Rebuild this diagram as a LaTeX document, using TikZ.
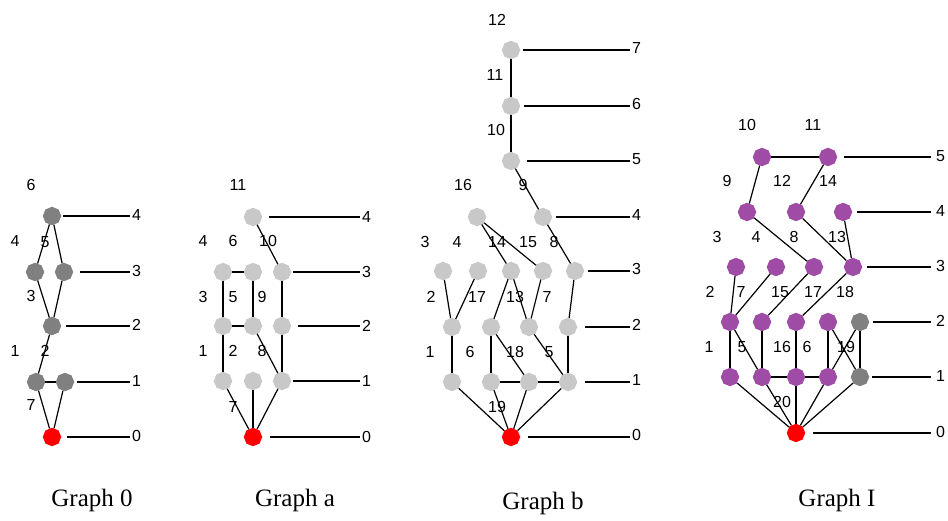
\documentclass[tikz,border=0pt]{standalone}
\usepackage{fontspec}
\setmainfont{Liberation Serif}
\newfontfamily\numfont{Liberation Sans}
\usetikzlibrary{shapes.geometric}
\definecolor{dgray}{RGB}{128,128,128}
\definecolor{lgray}{RGB}{200,200,200}
\definecolor{purp}{RGB}{158,76,166}
\definecolor{rednode}{RGB}{255,0,0}
\tikzset{
  vx/.style={regular polygon, regular polygon sides=8, shape border rotate=22.5, minimum size=18.5pt, inner sep=0pt, draw=none},
  dk/.style={vx, fill=dgray},
  lg/.style={vx, fill=lgray},
  pu/.style={vx, fill=purp},
  rd/.style={vx, fill=rednode},
  edge/.style={line width=1.2pt, black},
  num/.style={font=\numfont\fontsize{16}{16}\selectfont, inner sep=0pt},
  lvl/.style={font=\numfont\fontsize{16}{16}\selectfont, inner sep=0pt, anchor=west},
  ttl/.style={font=\fontsize{25}{25}\selectfont, inner sep=0pt}
}
\begin{document}
\begin{tikzpicture}[x=1pt,y=-1pt]
\useasboundingbox (0,0) rectangle (948,521);
% ---------- Graph 0 ----------
\node[dk] (g0a) at (52,216) {};
\node[dk] (g0b) at (35,272) {};
\node[dk] (g0c) at (64,272) {};
\node[dk] (g0d) at (52,326) {};
\node[dk] (g0e) at (36,382) {};
\node[dk] (g0f) at (65,382) {};
\node[rd] (g0r) at (52,437) {};
\draw[edge] (g0a) -- (g0b); \draw[edge] (g0a) -- (g0c);
\draw[edge] (g0b) -- (g0d); \draw[edge] (g0c) -- (g0d);
\draw[edge] (g0d) -- (g0e); \draw[edge] (g0e) -- (g0f);
\draw[edge] (g0e) -- (g0r); \draw[edge] (g0f) -- (g0r);
\foreach \n/\xs/\y/\t in {g0l4/63/216/4, g0l3/80/272/3, g0l2/66/326/2, g0l1/77/382/1, g0l0/67/437/0}{
  \coordinate (\n s) at (\xs,\y);
  \node[lvl] (\n t) at (132,\y-1) {\t};
  \draw[edge] (\n s) -- ([xshift=-2pt]\n t.west |- \n s);
}
\foreach \n/\x/\y/\t in {g0n6/31/185/6, g0n4/15/241/4, g0n5/45/242/5, g0n3/31/296/3, g0n1/15/351/1, g0n2/45/351/2, g0n7/31/405/7}{
  \node[num] (\n) at (\x,\y) {\t};
}
\node[ttl] (t0) at (92,500) {Graph 0};
% ---------- Graph a ----------
\node[lg] (a4) at (253,217) {};
\node[lg] (a3a) at (223,272) {};
\node[lg] (a3b) at (253,272) {};
\node[lg] (a3c) at (282,272) {};
\node[lg] (a2a) at (223,326) {};
\node[lg] (a2b) at (253,326) {};
\node[lg] (a2c) at (282,326) {};
\node[lg] (a1a) at (223,381) {};
\node[lg] (a1b) at (253,381) {};
\node[lg] (a1c) at (282,381) {};
\node[rd] (ar) at (253,437) {};
\draw[edge] (a4) -- (a3c);
\draw[edge] (a3a) -- (a3b); \draw[edge] (a3a) -- (a2a);
\draw[edge] (a3b) -- (a2b); \draw[edge] (a3c) -- (a2c);
\draw[edge] (a2a) -- (a2b); \draw[edge] (a2a) -- (a1a);
\draw[edge] (a2b) -- (a1c); \draw[edge] (a2c) -- (a1c);
\draw[edge] (a1a) -- (ar); \draw[edge] (a1b) -- (ar); \draw[edge] (a1c) -- (ar);
\foreach \n/\xs/\y/\t in {al4/269/217/4, al3/293/272/3, al2/298/326/2, al1/293/381/1, al0/270/437/0}{
  \coordinate (\n s) at (\xs,\y);
  \node[lvl] (\n t) at (362,\y) {\t};
  \draw[edge] (\n s) -- ([xshift=-2pt]\n t.west |- \n s);
}
\foreach \n/\x/\y/\t in {an11/238/185/11, an4/203/241/4, an6/233/241/6, an10/268/241/10, an3/203/297/3, an5/233/297/5, an9/262/297/9, an1/203/351/1, an2/233/351/2, an8/262/351/8, an7/233/407/7}{
  \node[num] (\n) at (\x,\y) {\t};
}
\node[ttl] (ta) at (295,500) {Graph a};
% ---------- Graph b ----------
\node[lg] (b7) at (511,50) {};
\node[lg] (b6) at (511,106) {};
\node[lg] (b5) at (511,161) {};
\node[lg] (b4a) at (477,217) {};
\node[lg] (b4b) at (543,217) {};
\node[lg] (b3a) at (443,271) {};
\node[lg] (b3b) at (478,271) {};
\node[lg] (b3c) at (511,271) {};
\node[lg] (b3d) at (543,271) {};
\node[lg] (b3e) at (575,271) {};
\node[lg] (b2a) at (452,327) {};
\node[lg] (b2b) at (491,327) {};
\node[lg] (b2c) at (529,327) {};
\node[lg] (b2d) at (568,327) {};
\node[lg] (b1a) at (452,382) {};
\node[lg] (b1b) at (491,382) {};
\node[lg] (b1c) at (529,382) {};
\node[lg] (b1d) at (568,382) {};
\node[rd] (br) at (511,437) {};
\draw[edge] (b7) -- (b6); \draw[edge] (b6) -- (b5); \draw[edge] (b5) -- (b4b);
\draw[edge] (b4a) -- (b3c); \draw[edge] (b4a) -- (b3d); \draw[edge] (b4b) -- (b3e);
\draw[edge] (b3a) -- (b2a); \draw[edge] (b3b) -- (b2a);
\draw[edge] (b3c) -- (b2b); \draw[edge] (b3c) -- (b2c);
\draw[edge] (b3d) -- (b2c); \draw[edge] (b3e) -- (b2d);
\draw[edge] (b2a) -- (b1a); \draw[edge] (b2b) -- (b1b);
\draw[edge] (b2b) -- (b1c); \draw[edge] (b2c) -- (b1d); \draw[edge] (b2d) -- (b1d);
\draw[edge] (b1b) -- (b1c); \draw[edge] (b1c) -- (b1d);
\draw[edge] (b1a) -- (br); \draw[edge] (b1b) -- (br); \draw[edge] (b1c) -- (br); \draw[edge] (b1d) -- (br);
\foreach \n/\xs/\y/\t in {bl7/523/50/7, bl6/524/106/6, bl5/527/161/5, bl4/556/217/4, bl3/588/271/3, bl2/585/327/2, bl1/585/382/1, bl0/528/437/0}{
  \coordinate (\n s) at (\xs,\y);
  \node[lvl] (\n t) at (632,\y-2) {\t};
  \draw[edge] (\n s) -- ([xshift=-2pt]\n t.west |- \n s);
}
\foreach \n/\x/\y/\t in {bn12/497/20/12, bn11/495/75/11, bn10/496/130/10, bn16/463/185/16, bn9/523/185/9, bn3/425/242/3, bn4/457/242/4, bn14/497/242/14, bn15/528/242/15, bn8/554/242/8, bn2/431/297/2, bn17/477/297/17, bn13/515/297/13, bn7/547/297/7, bn1/430/352/1, bn6/470/352/6, bn18/515/352/18, bn5/549/352/5, bn19/497/407/19}{
  \node[num] (\n) at (\x,\y) {\t};
}
\node[ttl] (tb) at (543,503) {Graph b};
% ---------- Graph I ----------
\node[pu] (i5a) at (762,157) {};
\node[pu] (i5b) at (828,157) {};
\node[pu] (i4a) at (747,212) {};
\node[pu] (i4b) at (796,212) {};
\node[pu] (i4c) at (843,212) {};
\node[pu] (i3a) at (736,267) {};
\node[pu] (i3b) at (776,267) {};
\node[pu] (i3c) at (814,267) {};
\node[pu] (i3d) at (853,267) {};
\node[pu] (i2a) at (730,322) {};
\node[pu] (i2b) at (762,322) {};
\node[pu] (i2c) at (796,322) {};
\node[pu] (i2d) at (828,322) {};
\node[dk] (i2e) at (860,322) {};
\node[pu] (i1a) at (730,377) {};
\node[pu] (i1b) at (762,377) {};
\node[pu] (i1c) at (796,377) {};
\node[pu] (i1d) at (828,377) {};
\node[dk] (i1e) at (860,377) {};
\node[rd] (ir) at (796,433) {};
\draw[edge] (i5a) -- (i5b); \draw[edge] (i5a) -- (i4a); \draw[edge] (i5b) -- (i4b);
\draw[edge] (i4a) -- (i3c); \draw[edge] (i4b) -- (i3d); \draw[edge] (i4c) -- (i3d);
\draw[edge] (i3a) -- (i2a); \draw[edge] (i3b) -- (i2a);
\draw[edge] (i3c) -- (i2b); \draw[edge] (i3d) -- (i2c);
\draw[edge] (i2a) -- (i1a); \draw[edge] (i2a) -- (i1b);
\draw[edge] (i2b) -- (i1b); \draw[edge] (i2c) -- (i1c);
\draw[edge] (i2d) -- (i1d); \draw[edge] (i2d) -- (i1e);
\draw[edge] (i2e) -- (i1d); \draw[edge] (i2e) -- (i1e);
\draw[edge] (i1b) -- (i1c); \draw[edge] (i1c) -- (i1d);
\draw[edge] (i1a) -- (ir); \draw[edge] (i1b) -- (ir); \draw[edge] (i1c) -- (ir);
\draw[edge] (i1d) -- (ir); \draw[edge] (i1e) -- (ir);
\foreach \n/\xs/\y/\t in {il5/844/157/5, il4/857/212/4, il3/867/267/3, il2/873/322/2, il1/872/377/1, il0/813/433/0}{
  \coordinate (\n s) at (\xs,\y);
  \node[lvl] (\n t) at (936,\y-1) {\t};
  \draw[edge] (\n s) -- ([xshift=-5pt]\n t.west |- \n s);
}
\foreach \n/\x/\y/\t in {in10/747/125/10, in11/813/125/11, in9/727/181/9, in12/782/181/12, in14/828/181/14, in3/717/237/3, in4/756/237/4, in8/794/237/8, in13/837/237/13, in2/710/292/2, in7/741/292/7, in15/780/292/15, in17/813/292/17, in18/845/292/18, in1/709/347/1, in5/742/347/5, in16/782/347/16, in6/807/347/6, in19/846/347/19, in20/782/402/20}{
  \node[num] (\n) at (\x,\y) {\t};
}
\node[ttl] (ti) at (837,500) {Graph I};
\end{tikzpicture}
\end{document}
